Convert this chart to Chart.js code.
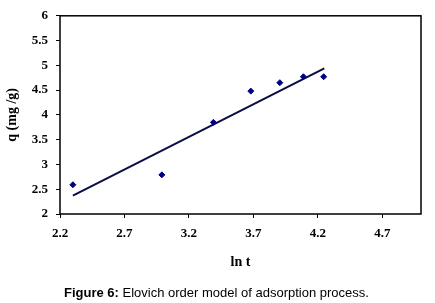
<!DOCTYPE html>
<html>
<head>
<meta charset="utf-8">
<script src="https://cdn.jsdelivr.net/npm/chart.js@4"></script>
<style>
  html, body { margin: 0; padding: 0; background: #fff; }
  #wrap { position: relative; width: 435px; height: 303px; }
  #caption { position: absolute; left: 64px; top: 285px; font: 13px "Liberation Sans", Arial, sans-serif; color: #000; white-space: nowrap; }
</style>
</head>
<body>
<div id="wrap">
  <canvas id="elovichChart" width="435" height="303"></canvas>
  <div id="caption"><b>Figure 6:</b> Elovich order model of adsorption process.</div>
</div>
<script>
// measured points (ln t , q)
var lnT = [2.30, 2.99, 3.39, 3.68, 3.905, 4.088, 4.245];
var qValues = [2.59, 2.79, 3.85, 4.48, 4.65, 4.77, 4.77];
// fitted straight line, end points
var fitX = [2.30, 4.25];
var fitY = [2.37, 4.94];
// tick labels
var xTicks = [2.2, 2.7, 3.2, 3.7, 4.2, 4.7];
var yTicks = [2, 2.5, 3, 3.5, 4, 4.5, 5, 5.5, 6];

var points = [];
for (var i = 0; i < lnT.length; i++) {
    points.push({x: lnT[i], y: qValues[i]});
}
var line = [];
for (var i = 0; i < fitX.length; i++) {
    line.push({x: fitX[i], y: fitY[i]});
}

var serif = '"Liberation Serif", "Times New Roman", serif';
var tickFont = {family: serif, size: 13, weight: 'bold'};
var titleFont = {family: serif, size: 14, weight: 'bold'};

// box round the plot area
var frame = {
    id: 'frame',
    afterDraw(chart) {
        var a = chart.chartArea, c = chart.ctx;
        c.save();
        c.strokeStyle = '#000';
        c.lineWidth = 1.5;
        c.strokeRect(a.left, a.top, a.right - a.left, a.bottom - a.top);
        c.restore();
    }
};

var ctx = document.getElementById("elovichChart").getContext("2d");
new Chart(ctx, {
    type: 'scatter',
    data: {
        datasets: [{
            label: 'q',
            data: points,
            pointStyle: 'rectRot',
            pointRadius: 3,
            backgroundColor: '#000080',
            borderColor: '#000080',
            borderWidth: 1,
            showLine: false
        },
        {
            label: 'fit',
            data: line,
            showLine: true,
            borderColor: '#0b0b45',
            borderWidth: 2,
            pointRadius: 0
        }]
    },
    options: {
        responsive: false,
        animation: false,
        events: [],
        layout: {padding: {top: 11, right: 14, left: 0, bottom: 0}},
        plugins: {legend: {display: false}, tooltip: {enabled: false}},
        scales: {
            x: {
                type: 'linear',
                min: 2.2,
                max: 5.0,
                afterBuildTicks(scale) { scale.ticks = xTicks.map(function (v) { return {value: v}; }); },
                afterFit(scale) { scale.height = 89; },
                grid: {display: true, drawOnChartArea: false, tickLength: 4, color: '#000'},
                border: {display: false},
                ticks: {color: '#000', font: tickFont, padding: 8, maxRotation: 0, callback: function (v) { return v.toFixed(1); }},
                title: {display: true, text: 'ln t', color: '#000', font: titleFont, padding: {top: 4, bottom: 32}}
            },
            y: {
                type: 'linear',
                min: 2,
                max: 6,
                afterBuildTicks(scale) { scale.ticks = yTicks.map(function (v) { return {value: v}; }); },
                afterFit(scale) { scale.width = 60; },
                grid: {display: true, drawOnChartArea: false, tickLength: 4, color: '#000'},
                border: {display: false},
                ticks: {color: '#000', font: tickFont, padding: 8, callback: function (v) { return String(v); }},
                title: {display: true, text: 'q (mg /g)', color: '#000', font: titleFont, padding: {bottom: 6}}
            }
        }
    },
    plugins: [frame]
});
</script>
</body>
</html>
